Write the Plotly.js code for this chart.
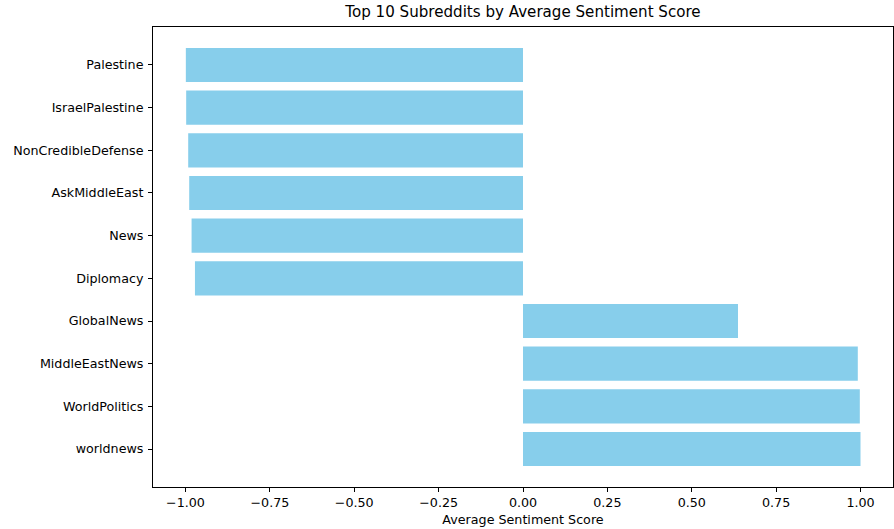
<!DOCTYPE html>
<html>
<head>
<meta charset="utf-8">
<script src="https://cdn.plot.ly/plotly-3.0.1.min.js"></script>
<style>html,body{margin:0;padding:0;background:#fff;}#chart{width:894px;height:529px;}</style>
</head>
<body>
<div id="chart"></div>
<script>
const subreddits = ["Palestine","IsraelPalestine","NonCredibleDefense","AskMiddleEast","News","Diplomacy","GlobalNews","MiddleEastNews","WorldPolitics","worldnews"];
const sentiment = [-0.999, -0.998, -0.992, -0.989, -0.982, -0.972, 0.637, 0.992, 0.998, 1.0];
const xTicks = [-1.0, -0.75, -0.5, -0.25, 0.0, 0.25, 0.5, 0.75, 1.0];

const font = "DejaVu Sans, sans-serif";
const trace = {
  type: "bar",
  orientation: "h",
  y: subreddits,
  x: sentiment,
  marker: {color: "#87CEEB", line: {width: 0}},
  hoverinfo: "x+y"
};
const layout = {
  width: 894, height: 529,
  margin: {l: 153, r: 1, t: 27, b: 42, pad: 0},
  paper_bgcolor: "#fff", plot_bgcolor: "#fff",
  bargap: 0.2,
  showlegend: false,
  title: {text: "Top 10 Subreddits by Average Sentiment Score", font: {family: font, size: 15.1, color: "#000"}, x: 0.585, xanchor: "center", y: 0.987, yanchor: "top"},
  xaxis: {
    range: [-1.0963, 1.0963],
    tickvals: xTicks,
    tickformat: ".2f",
    ticks: "outside", ticklen: 4, tickwidth: 1, tickcolor: "#000",
    showgrid: false, zeroline: false,
    showline: true, linecolor: "#000", linewidth: 1, mirror: true,
    tickfont: {family: font, size: 12.7, color: "#000"},
    title: {text: "Average Sentiment Score", font: {family: font, size: 12.7, color: "#000"}, standoff: 5}
  },
  yaxis: {
    type: "category",
    categoryorder: "array", categoryarray: subreddits,
    range: [9.89, -0.89],
    ticks: "outside", ticklen: 4, tickwidth: 1, tickcolor: "#000",
    showgrid: false, zeroline: false,
    showline: true, linecolor: "#000", linewidth: 1, mirror: true,
    tickfont: {family: font, size: 12.7, color: "#000"},
    ticklabelstandoff: 2
  }
};
Plotly.newPlot("chart", [trace], layout, {staticPlot: true, displayModeBar: false});
</script>
</body>
</html>
